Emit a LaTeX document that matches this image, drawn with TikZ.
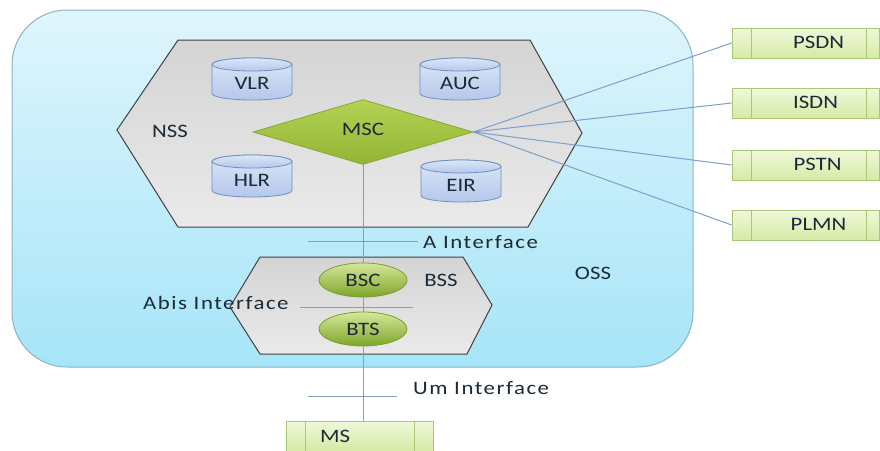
\documentclass[tikz,border=0pt]{standalone}
\usepackage{fontspec}
\setmainfont{Carlito}[FakeStretch=1.2]
\newfontfamily\spacedfont{Carlito}[FakeStretch=1.2,LetterSpace=8]
\usetikzlibrary{shapes.geometric}
\definecolor{ossTop}{HTML}{DFF5FC}
\definecolor{ossBot}{HTML}{A6E5F8}
\definecolor{ossDraw}{HTML}{8AB4C6}
\definecolor{hexTop}{HTML}{D4D4D4}
\definecolor{hexBot}{HTML}{EAEAEA}
\definecolor{hexDraw}{HTML}{404040}
\definecolor{cylTop}{HTML}{DCE6F6}
\definecolor{cylBot}{HTML}{B4C8EC}
\definecolor{cylDraw}{HTML}{7090C0}
\definecolor{dmTop}{HTML}{B4D254}
\definecolor{dmBot}{HTML}{92B534}
\definecolor{dmDraw}{HTML}{86A830}
\definecolor{elTop}{HTML}{D5E89A}
\definecolor{elBot}{HTML}{7EA52A}
\definecolor{elDraw}{HTML}{7A9E2A}
\definecolor{bxTop}{HTML}{F0F8DA}
\definecolor{bxBot}{HTML}{D6EAA6}
\definecolor{bxDraw}{HTML}{A8C878}
\definecolor{lnColor}{HTML}{7E9ECB}
\definecolor{txtColor}{HTML}{1B2A36}
\newcommand{\dbcyl}[4]{%
  \begin{scope}[shift={(#2,#3)}]
    \draw[cylstyle] (-40,-14.5) -- (-40,14.5)
      arc[start angle=180,end angle=0,x radius=40,y radius=6.5]
      -- (40,-14.5)
      arc[start angle=0,end angle=-180,x radius=40,y radius=6.5] -- cycle;
    \draw[cylstyle] (0,-14.5) ellipse[x radius=40,y radius=6.5];
    \node[lbl] (#1) at (0,4) {#4};
  \end{scope}}
\begin{document}
\begin{tikzpicture}[x=1pt,y=-1pt,
  lbl/.style={text=txtColor,font=\fontsize{19}{22}\selectfont,inner sep=0pt},
  ifl/.style={text=txtColor,font=\fontsize{19}{22}\spacedfont,inner sep=0pt,anchor=west},
  cylstyle/.style={top color=cylTop,bottom color=cylBot,draw=cylDraw,line width=0.8pt},
  hexstyle/.style={top color=hexTop,bottom color=hexBot,draw=hexDraw,line width=1pt},
  dmstyle/.style={diamond,top color=dmTop,bottom color=dmBot,draw=dmDraw,line width=0.8pt,
    minimum width=220pt,minimum height=65pt,inner sep=0pt,aspect=3.4},
  elstyle/.style={ellipse,top color=elTop,bottom color=elBot,draw=elDraw,line width=0.8pt,
    minimum width=88pt,minimum height=34pt,inner sep=0pt},
  extbox/.style={rectangle,top color=bxTop,bottom color=bxBot,draw=bxDraw,line width=0.8pt,
    minimum width=147pt,minimum height=30pt,inner sep=0pt},
  conn/.style={draw=lnColor,line width=1pt}]
\useasboundingbox (0,0) rectangle (880,450);

% OSS
\draw[top color=ossTop,bottom color=ossBot,draw=ossDraw,line width=1pt,rounded corners=55pt]
  (12,10) rectangle (693,367);
\node[lbl] (oss) at (593,273) {OSS};

% NSS hexagon
\draw[hexstyle] (178,40) -- (530,40) -- (582,133) -- (528,227) -- (178,227) -- (117,130) -- cycle;
\node[lbl] (nss) at (170,131) {NSS};

% BSS hexagon
\draw[hexstyle] (260,257) -- (463,257) -- (492,305) -- (467,354) -- (260,354) -- (230,307) -- cycle;
\node[lbl] (bss) at (441,280) {BSS};

% external boxes (nodes)
\node[extbox] (psdn) at (805.5,43) {};
\node[extbox] (isdn) at (805.5,103) {};
\node[extbox] (pstn) at (805.5,165) {};
\node[extbox] (plmn) at (805.5,225) {};
\node[extbox] (ms) at (360,436) {};
\foreach \b in {psdn,isdn,pstn,plmn}{
  \draw[draw=bxDraw,line width=0.8pt] ([xshift=20pt]\b.north west) -- ([xshift=20pt]\b.south west);
  \draw[draw=bxDraw,line width=0.8pt] ([xshift=-13pt]\b.north east) -- ([xshift=-13pt]\b.south east);
}
\draw[draw=bxDraw,line width=0.8pt] ([xshift=19pt]ms.north west) -- ([xshift=19pt]ms.south west);
\draw[draw=bxDraw,line width=0.8pt] ([xshift=-20pt]ms.north east) -- ([xshift=-20pt]ms.south east);
\node[lbl] at ([xshift=13pt,yshift=1pt]psdn.center) {PSDN};
\node[lbl] at ([xshift=10pt,yshift=1pt]isdn.center) {ISDN};
\node[lbl] at ([xshift=12pt,yshift=1pt]pstn.center) {PSTN};
\node[lbl] at ([xshift=13pt,yshift=1pt]plmn.center) {PLMN};
\node[lbl] at ([xshift=-25pt]ms.center) {MS};

% MSC diamond
\node[dmstyle] (msc) at (363,132) {};

% connectors
\draw[conn] (msc.south) -- (msc.south |- ms.north);
\draw[conn] (msc.east) -- (psdn.west);
\draw[conn] (msc.east) -- (isdn.west);
\draw[conn] (msc.east) -- (pstn.west);
\draw[conn] (msc.east) -- (plmn.west);

\node[lbl] at ([yshift=3pt]msc.center) {MSC};

% databases
\dbcyl{vlr}{252}{79}{VLR}
\dbcyl{auc}{460}{79}{AUC}
\dbcyl{hlr}{252}{176}{HLR}
\dbcyl{eir}{461}{181}{EIR}

% BSC / BTS
\node[elstyle] (bsc) at (363,280) {};
\node[lbl] at (bsc.center) {BSC};
\node[elstyle] (bts) at (363,329) {};
\node[lbl] at (bts.center) {BTS};

% interface marks
\coordinate (aL) at (308,241); \coordinate (aR) at (418,241);
\draw[conn] (aL) -- (aR);
\node[ifl] (aint) at (423,242) {A Interface};
\coordinate (abL) at (300,307); \coordinate (abR) at (413,307);
\draw[conn] (abL) -- (abR);
\node[ifl] (abint) at (143,303) {Abis Interface};
\coordinate (umL) at (308,396); \coordinate (umR) at (397,396);
\draw[conn] (umL) -- (umR);
\node[ifl] (umint) at (413,388) {Um Interface};
\end{tikzpicture}
\end{document}
